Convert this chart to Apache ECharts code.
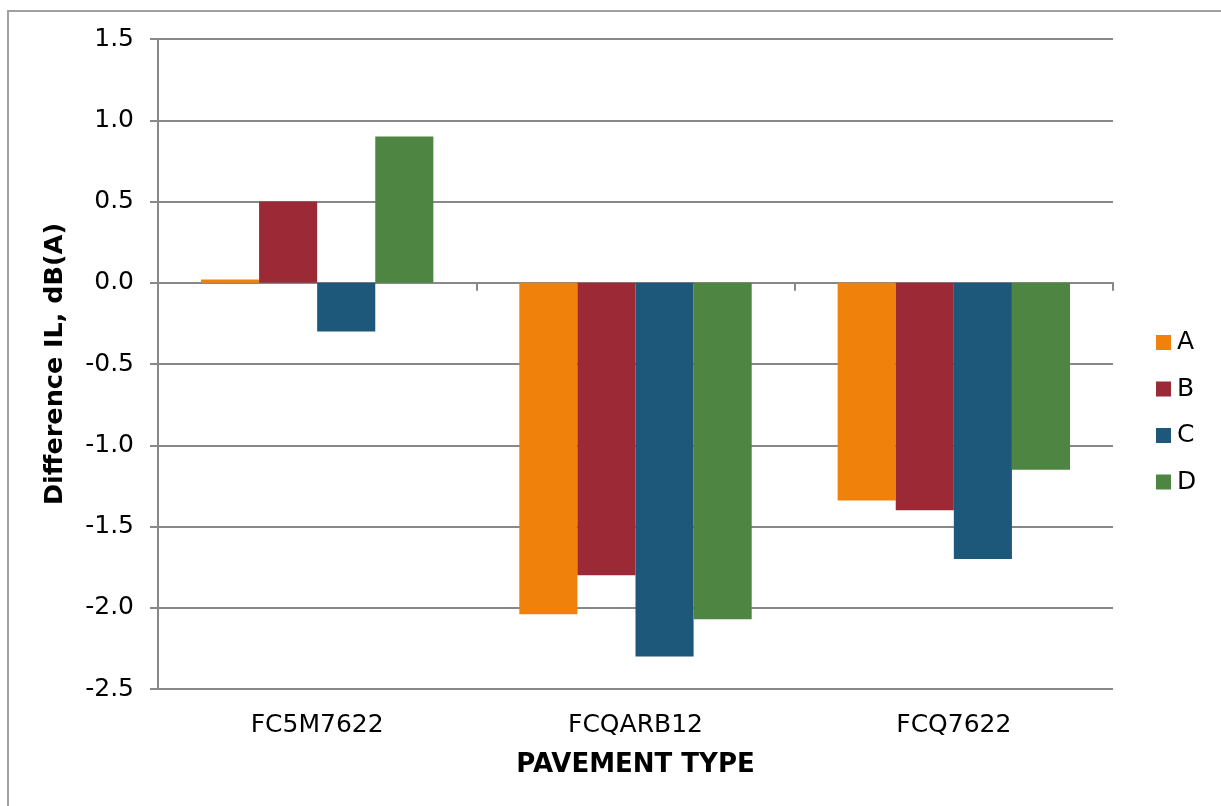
<!DOCTYPE html>
<html>
<head>
<meta charset="utf-8">
<script src="https://cdn.jsdelivr.net/npm/echarts@6/dist/echarts.min.js"></script>
<style>
  html, body { margin: 0; padding: 0; background: #fff; }
  #chart { width: 1221px; height: 806px; }
</style>
</head>
<body>
<div id="chart"></div>
<script>
// Pavement types along the category axis
const categories = ['FC5M7622', 'FCQARB12', 'FCQ7622'];

// Difference in insertion loss, dB(A), per series
const seriesA = [0.02, -2.04, -1.34];
const seriesB = [0.50, -1.80, -1.40];
const seriesC = [-0.30, -2.30, -1.70];
const seriesD = [0.90, -2.07, -1.15];

const seriesNames = ['A', 'B', 'C', 'D'];
const seriesValues = [seriesA, seriesB, seriesC, seriesD];
const seriesColors = ['#F0820C', '#9C2A36', '#1D5779', '#4E8542'];

const FONT = '"DejaVu Sans", Verdana, sans-serif';
const GRID_COLOR = '#888888';

const chart = echarts.init(document.getElementById('chart'), null, { renderer: 'canvas' });

chart.setOption({
  animation: false,
  backgroundColor: '#ffffff',
  textStyle: { fontFamily: FONT },
  graphic: [{
    type: 'rect',
    shape: { x: 8, y: 11, width: 1400, height: 1000 },
    style: { fill: 'none', stroke: '#a0a0a0', lineWidth: 2 },
    silent: true,
    z: -10
  }],
  grid: { left: 158, right: 108, top: 39, bottom: 117, containLabel: false },
  legend: {
    orient: 'vertical',
    left: 1156,
    top: 330,
    padding: 0,
    itemWidth: 15,
    itemHeight: 15,
    itemGap: 21.5,
    icon: 'rect',
    textStyle: { fontFamily: FONT, fontSize: 25, color: '#000', padding: [0, 0, 0, 1] },
    data: seriesNames
  },
  xAxis: [
    {
      // axis line through zero with boundary ticks
      type: 'category',
      data: categories,
      axisLine: { onZero: true, lineStyle: { color: GRID_COLOR, width: 2 } },
      axisTick: { show: true, length: 8, lineStyle: { color: GRID_COLOR, width: 2 } },
      axisLabel: { show: false },
      splitLine: { show: false }
    },
    {
      // category labels and title along the bottom
      type: 'category',
      data: categories,
      position: 'bottom',
      axisLine: { show: false, onZero: false },
      axisTick: { show: false },
      axisLabel: { show: true, fontFamily: FONT, fontSize: 25, color: '#000', margin: 24 },
      name: 'PAVEMENT TYPE',
      nameLocation: 'middle',
      nameGap: 63,
      nameTextStyle: { fontFamily: FONT, fontSize: 26, fontWeight: 'bold', color: '#000' }
    }
  ],
  yAxis: {
    type: 'value',
    min: -2.5,
    max: 1.5,
    interval: 0.5,
    axisLine: { show: true, lineStyle: { color: GRID_COLOR, width: 2 } },
    axisTick: { show: true, length: 8, lineStyle: { color: GRID_COLOR, width: 2 } },
    splitLine: { show: true, lineStyle: { color: GRID_COLOR, width: 2 } },
    axisLabel: {
      fontFamily: FONT, fontSize: 25, color: '#000', margin: 24,
      formatter: v => v.toFixed(1)
    },
    name: 'Difference IL, dB(A)',
    nameLocation: 'middle',
    nameGap: 90,
    nameTextStyle: { fontFamily: FONT, fontSize: 25.5, fontWeight: 'bold', color: '#000' }
  },
  series: seriesNames.map((name, i) => ({
    name: name,
    type: 'bar',
    xAxisIndex: 0,
    data: seriesValues[i],
    barGap: '0%',
    barCategoryGap: '27%',
    itemStyle: { color: seriesColors[i] }
  }))
});
</script>
</body>
</html>
